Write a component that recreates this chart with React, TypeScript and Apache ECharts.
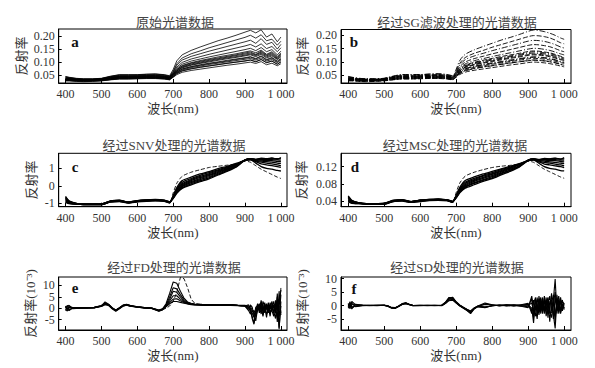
import React, { useEffect, useRef } from "react";
import * as echarts from "echarts";

// wavelength grid (nm) for panels a-d
const WL_A = [400,410,430,450,475,500,525,550,575,600,625,650,675,690,700,710,725,750,775,800,825,850,875,900,915,930,945,960,975,990,1000];

// a: raw reflectance spectra
const rawSpectra = [
  [.045,.042,.038,.036,.036,.038,.046,.052,.052,.052,.054,.055,.052,.048,.072,.105,.128,.145,.158,.170,.182,.192,.203,.215,.222,.212,.224,.196,.208,.178,.196],
  [.042,.040,.036,.035,.035,.037,.044,.049,.049,.050,.051,.052,.049,.045,.066,.094,.116,.132,.143,.155,.165,.175,.185,.195,.203,.192,.205,.182,.188,.165,.180],
  [.040,.038,.035,.034,.034,.036,.043,.047,.047,.048,.049,.050,.047,.043,.062,.088,.108,.122,.132,.142,.151,.160,.169,.178,.184,.172,.190,.168,.176,.150,.168],
  [.038,.037,.034,.033,.033,.035,.041,.045,.045,.046,.047,.048,.045,.042,.059,.081,.099,.112,.121,.130,.138,.146,.154,.162,.168,.158,.170,.152,.160,.140,.155],
  [.037,.036,.033,.032,.033,.034,.040,.044,.044,.045,.046,.046,.044,.041,.056,.076,.092,.104,.112,.120,.127,.134,.141,.148,.153,.144,.156,.140,.148,.128,.142],
  [.036,.035,.032,.031,.032,.034,.039,.043,.043,.044,.045,.045,.043,.040,.054,.072,.087,.098,.106,.113,.120,.126,.132,.139,.143,.136,.146,.130,.140,.122,.135],
  [.035,.034,.032,.031,.031,.033,.038,.042,.042,.043,.044,.044,.042,.039,.052,.068,.082,.093,.100,.107,.113,.119,.125,.131,.135,.128,.138,.124,.132,.115,.128],
  [.034,.034,.031,.030,.031,.033,.037,.041,.041,.042,.043,.043,.041,.038,.050,.065,.078,.088,.095,.101,.107,.113,.118,.124,.128,.121,.130,.116,.124,.110,.120],
  [.033,.033,.030,.030,.030,.032,.036,.040,.040,.041,.042,.042,.040,.037,.048,.062,.074,.083,.090,.096,.101,.107,.112,.117,.121,.114,.124,.110,.118,.104,.114],
  [.032,.032,.030,.029,.030,.031,.035,.039,.039,.040,.041,.041,.039,.036,.046,.059,.070,.079,.085,.091,.096,.101,.106,.111,.114,.108,.116,.104,.110,.098,.108],
  [.031,.031,.029,.028,.029,.030,.034,.038,.038,.039,.040,.040,.038,.035,.044,.056,.066,.074,.080,.085,.090,.095,.100,.105,.108,.102,.110,.098,.104,.092,.100],
  [.030,.030,.028,.027,.028,.029,.033,.037,.037,.038,.039,.039,.037,.034,.042,.052,.061,.068,.073,.078,.083,.088,.092,.097,.100,.095,.102,.090,.096,.086,.094],
  [.044,.041,.037,.035,.035,.037,.045,.051,.051,.051,.053,.054,.051,.046,.055,.071,.085,.096,.103,.110,.116,.122,.128,.135,.139,.130,.142,.127,.136,.118,.131],
  [.039,.037,.034,.032,.032,.034,.041,.046,.046,.047,.048,.049,.046,.042,.051,.066,.080,.090,.097,.104,.110,.116,.121,.127,.131,.125,.134,.120,.128,.112,.124],
  [.029,.029,.027,.026,.027,.029,.033,.036,.036,.037,.038,.038,.036,.033,.046,.061,.073,.082,.088,.094,.099,.104,.110,.115,.119,.112,.122,.108,.115,.101,.111],
  [.028,.028,.026,.025,.026,.028,.032,.035,.035,.036,.037,.037,.035,.032,.043,.056,.067,.075,.081,.086,.091,.096,.100,.104,.108,.101,.110,.098,.104,.092,.102],
];

// b: SG-smoothed tails (900..1000 nm), the head is the same as raw
const sgTails = [
  [.215,.220,.218,.214,.208,.200,.190,.185],
  [.195,.199,.198,.195,.190,.182,.172,.168],
  [.178,.181,.180,.177,.172,.165,.156,.152],
  [.162,.165,.164,.161,.157,.150,.142,.138],
  [.148,.151,.150,.147,.143,.137,.130,.126],
  [.139,.141,.140,.137,.134,.128,.121,.118],
  [.131,.133,.132,.130,.126,.121,.114,.111],
  [.124,.126,.125,.123,.119,.114,.108,.105],
  [.117,.119,.118,.116,.113,.108,.102,.099],
  [.111,.113,.112,.110,.107,.102,.097,.094],
  [.105,.107,.106,.104,.101,.097,.091,.088],
  [.097,.099,.098,.096,.093,.089,.084,.081],
  [.135,.138,.137,.134,.131,.125,.118,.115],
  [.127,.129,.128,.126,.122,.117,.110,.107],
  [.115,.117,.116,.114,.111,.106,.100,.097],
  [.104,.106,.105,.103,.100,.096,.090,.087],
];

// c: SNV spectra (last one is the outlier)
const snvSpectra = [
  [-0.6,-0.85,-1.0,-1.08,-1.08,-1.08,-0.93,-0.9,-0.98,-0.92,-0.88,-0.86,-0.88,-0.98,-0.55,-0.1,0.3,0.5,0.68,0.82,0.98,1.12,1.28,1.45,1.48,1.3,1.1,1.0,0.95,0.88,0.85],
  [-0.65,-0.88,-1.0,-1.07,-1.07,-1.07,-0.92,-0.88,-0.97,-0.9,-0.86,-0.84,-0.87,-0.96,-0.6,-0.18,0.2,0.42,0.6,0.76,0.92,1.07,1.24,1.44,1.5,1.38,1.25,1.2,1.15,1.1,1.05],
  [-0.7,-0.9,-1.02,-1.06,-1.06,-1.06,-0.9,-0.86,-0.96,-0.88,-0.84,-0.82,-0.86,-0.95,-0.62,-0.22,0.12,0.36,0.54,0.7,0.87,1.03,1.22,1.45,1.52,1.42,1.35,1.3,1.25,1.2,1.15],
  [-0.75,-0.92,-1.02,-1.05,-1.05,-1.05,-0.89,-0.85,-0.95,-0.87,-0.83,-0.81,-0.85,-0.94,-0.64,-0.26,0.06,0.3,0.48,0.64,0.82,0.99,1.19,1.46,1.53,1.45,1.42,1.38,1.35,1.3,1.28],
  [-0.8,-0.95,-1.03,-1.05,-1.05,-1.04,-0.88,-0.84,-0.94,-0.86,-0.82,-0.8,-0.84,-0.93,-0.66,-0.3,0.0,0.24,0.42,0.58,0.77,0.95,1.16,1.47,1.54,1.48,1.47,1.45,1.44,1.4,1.38],
  [-0.85,-0.97,-1.03,-1.04,-1.04,-1.03,-0.87,-0.83,-0.93,-0.85,-0.81,-0.79,-0.83,-0.92,-0.68,-0.34,-0.05,0.18,0.36,0.52,0.72,0.91,1.13,1.48,1.55,1.5,1.52,1.5,1.5,1.48,1.47],
  [-0.9,-1.0,-1.04,-1.04,-1.04,-1.03,-0.86,-0.82,-0.92,-0.84,-0.8,-0.78,-0.82,-0.91,-0.7,-0.38,-0.1,0.12,0.3,0.46,0.67,0.87,1.1,1.48,1.55,1.52,1.56,1.55,1.57,1.55,1.56],
  [-0.95,-1.02,-1.05,-1.05,-1.05,-1.04,-0.87,-0.83,-0.93,-0.85,-0.82,-0.8,-0.83,-0.92,-0.72,-0.42,-0.14,0.06,0.24,0.4,0.62,0.83,1.07,1.46,1.54,1.5,1.58,1.55,1.6,1.52,1.62],
  [-0.7,-0.88,-1.0,-1.06,-1.06,-1.06,-0.92,-0.88,-0.96,-0.9,-0.86,-0.84,-0.86,-0.95,-0.4,0.15,0.55,0.78,0.92,1.05,1.12,1.18,1.25,1.42,1.35,1.15,0.95,0.8,0.65,0.5,0.42],
];

// d: MSC spectra (last one is the outlier)
const mscSpectra = [
  [.052,.042,.036,.033,.033,.033,.039,.040,.037,.039,.041,.042,.041,.037,.054,.072,.088,.096,.103,.109,.115,.121,.127,.134,.135,.128,.120,.116,.114,.111,.110],
  [.050,.041,.036,.033,.033,.033,.039,.041,.037,.040,.042,.042,.041,.038,.052,.069,.084,.093,.100,.106,.113,.119,.126,.134,.136,.131,.126,.124,.122,.120,.118],
  [.048,.040,.035,.034,.034,.034,.040,.042,.038,.041,.042,.043,.042,.038,.051,.067,.081,.090,.098,.104,.111,.117,.125,.134,.137,.133,.130,.128,.126,.124,.122],
  [.046,.039,.035,.034,.034,.034,.040,.042,.038,.041,.043,.044,.042,.038,.050,.066,.078,.088,.095,.102,.109,.116,.124,.134,.137,.134,.133,.131,.130,.128,.127],
  [.044,.038,.035,.034,.034,.034,.041,.042,.038,.042,.043,.044,.042,.039,.050,.064,.076,.086,.093,.099,.107,.114,.122,.135,.138,.135,.135,.134,.134,.132,.131],
  [.042,.037,.035,.034,.034,.035,.041,.043,.039,.042,.044,.044,.043,.039,.049,.062,.074,.083,.090,.097,.105,.112,.121,.135,.138,.136,.137,.136,.136,.135,.135],
  [.040,.036,.034,.034,.034,.035,.042,.043,.039,.042,.044,.045,.043,.040,.048,.061,.072,.081,.088,.094,.103,.111,.120,.135,.138,.137,.138,.138,.139,.138,.138],
  [.038,.035,.034,.034,.034,.034,.041,.043,.039,.042,.043,.044,.043,.039,.047,.059,.070,.078,.086,.092,.101,.109,.119,.134,.138,.136,.139,.138,.140,.137,.141],
  [.048,.041,.036,.034,.034,.034,.039,.041,.038,.040,.042,.042,.042,.038,.060,.082,.098,.107,.113,.118,.121,.123,.126,.133,.130,.122,.114,.108,.102,.096,.093],
];

// wavelength grid (nm) for panels e-f
const WL_E = [400,405,410,420,440,460,480,500,510,520,530,540,550,560,570,580,600,620,640,660,670,680,690,700,710,720,730,740,750,760,780,800,820,840,860,880,900,910,915,920,925,930,935,940,945,950,955,960,965,970,975,980,985,990,995,1000];

// e: first derivative (x 10^-3), last one is the outlier
const fdSpectra = [
  [0.5,1.2,0.8,0.3,0.2,0.3,0.4,1.2,2.4,1.7,0.2,-0.8,0.2,1.3,1.7,1.2,0.7,0.3,0.1,-0.9,-0.3,2.0,6.5,11.5,11.0,7.5,4.5,2.8,2.2,1.9,1.7,1.6,1.5,1.5,1.6,1.4,1.3,0.5,-1.5,-3.5,-6.5,-2.0,0.5,2.0,-1.0,-3.0,1.5,-0.5,2.5,-2.5,0.5,3.0,-2.0,5.0,-4.0,6.0],
  [-0.5,-1.2,0.2,0.1,0.1,0.2,0.3,1.0,2.0,1.5,0.0,-1.0,0.0,1.1,1.5,1.0,0.6,0.2,0.0,-1.1,-0.5,1.5,5.0,9.0,8.5,6.0,3.8,2.5,2.0,1.8,1.6,1.5,1.4,1.4,1.5,1.3,1.2,1.0,0.0,-2.0,-4.0,0.5,1.0,-1.0,2.5,-2.0,-1.0,1.5,-2.0,1.0,-1.5,1.5,2.0,-6.0,7.5,-3.0],
  [1.0,-0.5,-1.0,0.2,0.3,0.3,0.4,1.1,2.2,1.6,0.1,-0.9,0.1,1.2,1.6,1.1,0.6,0.3,0.1,-1.0,-0.4,1.2,4.0,7.5,7.0,5.0,3.2,2.3,1.9,1.7,1.5,1.4,1.4,1.5,1.4,1.2,1.1,0.2,1.0,-1.0,-2.0,-3.5,-1.0,1.5,0.5,1.5,-2.0,0.0,0.5,-3.5,2.0,-2.0,1.0,3.0,-8.5,1.0],
  [0.0,0.8,1.3,-0.2,0.0,0.1,0.2,0.9,1.8,1.4,-0.1,-1.1,-0.1,1.0,1.4,1.0,0.5,0.2,-0.1,-1.2,-0.6,1.0,3.2,5.5,5.5,4.0,2.8,2.1,1.8,1.6,1.5,1.4,1.3,1.4,1.4,1.2,1.0,-0.5,1.5,0.5,-3.0,-5.5,0.0,-0.5,3.5,-1.0,2.5,-2.5,-1.0,1.5,-1.0,-3.5,3.5,-1.0,4.0,-2.0],
  [-1.0,0.3,-0.6,0.0,0.2,0.2,0.3,1.0,2.8,1.8,0.3,-0.7,0.3,1.4,1.8,1.3,0.7,0.3,0.1,-0.8,-0.2,0.8,2.5,4.0,4.2,3.3,2.5,2.0,1.7,1.6,1.5,1.4,1.3,1.3,1.4,1.2,1.0,1.5,-0.5,-4.5,-7.0,-1.5,2.0,0.5,-2.5,3.0,0.5,-4.0,1.0,0.0,3.0,-1.5,-4.5,6.5,-9.0,3.0],
  [0.5,-0.3,0.5,0.1,0.1,0.2,0.3,0.8,1.6,1.2,-0.2,-1.3,-0.2,0.9,1.3,0.9,0.5,0.2,-0.1,-1.3,-0.7,0.6,2.0,3.0,3.0,2.6,2.2,1.9,1.6,1.5,1.4,1.3,1.3,1.3,1.3,1.1,0.9,-1.0,-2.5,-1.5,-1.0,-2.5,1.5,-2.0,1.0,-3.5,1.0,2.0,-1.5,2.5,-0.5,1.0,-1.0,-4.0,2.0,8.0],
  [0.2,0.5,0.3,0.2,0.2,0.3,0.3,1.0,2.0,1.5,0.1,-0.9,0.1,1.2,1.5,1.1,0.6,0.3,0.0,-1.0,-0.6,0.0,1.0,3.0,7.0,13.5,13.0,9.0,4.0,2.2,1.6,1.5,1.4,1.4,1.4,1.2,1.0,0.5,-1.0,-2.5,-3.0,-1.0,0.5,1.0,-1.5,0.5,-1.0,1.5,-1.0,-2.0,1.0,0.0,2.0,-2.0,-5.0,9.0],
];

// f: second derivative (x 10^-3)
const sdSpectra = [
  [0.8,-1.2,1.5,0.3,0.1,0.0,0.1,0.1,-0.2,-0.8,-0.9,-0.3,0.6,0.9,0.4,0.0,0.1,0.0,0.0,0.1,1.0,2.5,2.8,1.2,0.0,-0.8,-1.6,-2.2,-1.0,-0.3,0.6,0.2,0.1,0.3,-0.2,0.3,0.8,-3.0,2.0,-1.5,3.0,-2.5,1.5,-3.0,2.5,-4.0,1.0,3.5,-2.0,2.0,9.8,-3.0,2.5,-2.0,1.5,0.5],
  [-0.5,1.4,-0.8,-0.2,0.0,0.1,0.0,0.0,-0.3,-0.9,-1.0,-0.4,0.5,0.8,0.3,-0.1,0.0,0.1,-0.1,0.0,0.8,2.0,2.3,1.0,-0.1,-0.9,-1.8,-2.8,-1.2,-0.4,-0.7,-0.1,0.2,-0.2,0.2,-0.1,-0.5,2.5,-4.5,3.0,-2.0,2.5,-3.0,1.0,-1.5,3.0,-4.5,1.5,2.0,-3.5,-8.5,2.5,-2.0,3.0,-1.0,-0.5],
  [0.3,0.6,-1.3,0.5,0.2,0.0,0.1,0.2,-0.1,-0.7,-0.8,-0.2,0.7,1.0,0.5,0.1,0.0,0.0,0.1,0.1,1.1,2.8,3.1,1.4,0.2,-0.6,-1.4,-2.0,-0.9,-0.2,0.9,0.3,-0.2,0.1,0.3,0.2,0.2,-1.0,-6.5,1.5,0.5,-3.5,2.5,-1.5,3.5,-2.0,2.0,-6.0,1.0,4.0,-4.0,1.5,3.5,-2.5,0.5,-1.0],
  [-1.0,0.2,0.9,-0.4,-0.1,0.1,0.0,0.1,-0.2,-0.8,-1.0,-0.3,0.5,0.8,0.4,0.0,0.1,-0.1,0.0,0.0,0.9,2.3,2.6,1.1,0.1,-0.7,-1.7,-2.5,-1.1,-0.3,-0.5,-0.2,0.2,-0.1,0.0,-0.3,-0.8,3.5,-1.5,-4.0,2.0,1.0,-2.0,3.0,-3.0,1.5,-2.5,-1.0,4.5,-5.0,3.0,-1.5,-1.0,2.0,-2.0,0.5],
  [0.5,-0.6,0.4,0.2,0.0,-0.1,0.1,0.0,-0.2,-0.8,-0.9,-0.3,0.6,0.9,0.4,0.0,0.0,0.1,0.0,0.1,1.2,3.0,2.9,1.3,0.0,-0.8,-1.5,-2.3,-1.0,-0.3,0.4,0.3,-0.1,0.2,-0.1,0.1,0.5,-2.0,1.0,2.5,-3.5,0.0,3.0,-2.0,-1.0,2.0,1.5,-3.0,-2.5,1.5,-6.0,4.0,-3.0,1.0,2.0,-1.5],
  [-0.2,0.9,-0.5,-0.3,0.1,0.0,-0.1,0.1,-0.3,-0.9,-1.1,-0.4,0.4,0.7,0.3,-0.1,-0.1,0.0,0.1,-0.1,0.7,1.8,2.0,0.9,-0.2,-1.0,-1.9,-3.0,-1.3,-0.4,-0.8,0.0,0.0,0.2,0.1,-0.2,0.0,1.0,-2.0,-1.0,-5.0,3.5,-1.0,2.0,-2.5,0.5,3.0,-2.0,-4.5,0.5,5.0,-2.0,1.0,-3.0,0.0,1.0],
];

const X_TICKS = [400, 500, 600, 700, 800, 900, 1000];
const TITLES = ["原始光谱数据", "经过SG滤波处理的光谱数据", "经过SNV处理的光谱数据", "经过MSC处理的光谱数据", "经过FD处理的光谱数据", "经过SD处理的光谱数据"];
const LETTERS = ["a", "b", "c", "d", "e", "f"];
const Y_NAMES = ["反射率", "反射率", "反射率", "反射率", "反射率(10⁻³)", "反射率(10⁻³)"];
const Y_TICKS = [[0.05, 0.1, 0.15, 0.2], [0.05, 0.1, 0.15, 0.2], [-1, 0, 1], [0.04, 0.08, 0.12], [-5, 0, 5, 10], [-5, 0, 5, 10]];
const Y_DECIMALS = [2, 2, 0, 2, 0, 0];
const Y_RANGES = [[0.02, 0.227], [0.02, 0.222], [-1.19, 1.86], [0.027, 0.151], [-9.5, 13.7], [-9.1, 10.6]];
// the FD panel's tick labels are placed from its axis scale after layout
const FD_PANEL = 4;

const GRIDS = [
  { left: 58.7, top: 29, width: 228.3, height: 54 },
  { left: 341, top: 29.5, width: 230, height: 53.5 },
  { left: 58.7, top: 153.3, width: 228.3, height: 53.4 },
  { left: 341, top: 153.3, width: 230, height: 53.4 },
  { left: 58.7, top: 277, width: 228.3, height: 53 },
  { left: 341, top: 277, width: 230, height: 53 },
];
const X_RANGES = [[381, 1017], [380, 1019], [381, 1017], [380, 1019], [381, 1017], [380, 1019]];
const Y_NAME_GAPS = [31, 32, 21, 33, 22, 32];
const TITLE_POS = [[175, 22], [457, 22], [174, 145], [455, 145], [174, 267], [457, 267]];
const LETTER_POS = [[75, 42], [354, 42], [75, 167], [355, 167], [75, 288], [354, 289]];
const LINE_WIDTHS = [0.8, 0.8, 1.3, 1.3, 1.1, 1.1];

const SERIF = "'Liberation Serif', 'Times New Roman', 'Noto Sans CJK SC', serif";
const TXT = "#333";

function pairs(xs: number[], ys: number[]) {
  return xs.map((x, i) => [x, ys[i]]);
}

function baseGraphic() {
  const graphic: any[] = [];
  TITLES.forEach((t, i) => {
    graphic.push({
      id: "title" + i,
      type: "text",
      x: TITLE_POS[i][0],
      y: TITLE_POS[i][1],
      silent: true,
      style: { text: t, fontFamily: SERIF, fontSize: 13, fill: "#444", align: "center", verticalAlign: "middle" },
    });
  });
  LETTERS.forEach((t, i) => {
    graphic.push({
      id: "letter" + i,
      type: "text",
      x: LETTER_POS[i][0],
      y: LETTER_POS[i][1],
      silent: true,
      z: 100,
      style: { text: t, fontFamily: SERIF, fontSize: 15, fontWeight: "bold", fill: "#111", align: "center", verticalAlign: "middle" },
    });
  });
  return graphic;
}

function buildOption() {
  const sgSpectra = rawSpectra.map((r, i) => [...r.slice(0, 23), ...sgTails[i]]);
  const panels = [
    { wl: WL_A, lines: rawSpectra, dash: (i: number) => "solid" as any, smooth: false },
    { wl: WL_A, lines: sgSpectra, dash: (i: number) => (i % 2 ? [5, 2] : [6, 2, 1, 2]), smooth: 0.3 },
    { wl: WL_A, lines: snvSpectra, dash: (i: number) => (i === snvSpectra.length - 1 ? [4, 2] : "solid"), smooth: 0.2 },
    { wl: WL_A, lines: mscSpectra, dash: (i: number) => (i === mscSpectra.length - 1 ? [4, 2] : "solid"), smooth: 0.2 },
    { wl: WL_E, lines: fdSpectra, dash: (i: number) => (i === fdSpectra.length - 1 ? [4, 2] : "solid"), smooth: false },
    { wl: WL_E, lines: sdSpectra, dash: (i: number) => "solid" as any, smooth: false },
  ];

  const series: any[] = [];
  panels.forEach((p, pi) => {
    p.lines.forEach((ln, li) => {
      const dash = p.dash(li);
      series.push({
        type: "line",
        xAxisIndex: pi,
        yAxisIndex: pi,
        data: pairs(p.wl, ln),
        showSymbol: false,
        symbol: "none",
        smooth: p.smooth,
        silent: true,
        lineStyle: { color: "#000", width: dash === "solid" ? LINE_WIDTHS[pi] : 0.9, type: dash },
      });
    });
  });

  const xAxis = GRIDS.map((_, i) => ({
    type: "value",
    gridIndex: i,
    min: X_RANGES[i][0],
    max: X_RANGES[i][1],
    name: "波长(nm)",
    nameLocation: "middle",
    nameGap: 19,
    nameTextStyle: { fontFamily: SERIF, fontSize: 13, color: TXT },
    axisLine: { show: true, onZero: false, lineStyle: { color: "#000", width: 1 } },
    axisTick: { show: true, inside: true, length: 4, customValues: X_TICKS, lineStyle: { color: "#000" } },
    axisLabel: {
      show: true,
      customValues: X_TICKS,
      margin: 5,
      fontFamily: SERIF,
      fontSize: 12,
      color: TXT,
      formatter: (v: number) => (v >= 1000 ? "1 000" : String(v)),
    },
    splitLine: { show: false },
  }));

  const yAxis = GRIDS.map((_, i) => ({
    type: "value",
    gridIndex: i,
    min: Y_RANGES[i][0],
    max: Y_RANGES[i][1],
    name: Y_NAMES[i],
    nameLocation: "middle",
    nameRotate: 90,
    nameGap: Y_NAME_GAPS[i],
    nameTextStyle: { fontFamily: SERIF, fontSize: 13, color: TXT },
    axisLine: { show: true, onZero: false, lineStyle: { color: "#000", width: 1 } },
    axisTick: { show: true, inside: true, length: 3, customValues: Y_TICKS[i], lineStyle: { color: "#000" } },
    axisLabel: {
      show: i !== FD_PANEL,
      customValues: Y_TICKS[i],
      margin: 4,
      fontFamily: SERIF,
      fontSize: 12,
      color: TXT,
      formatter: (v: number) => v.toFixed(Y_DECIMALS[i]),
    },
    splitLine: { show: false },
  }));

  return {
    animation: false,
    backgroundColor: "#fff",
    grid: GRIDS.map((g) => ({ ...g, show: true, borderColor: "#000", borderWidth: 1, backgroundColor: "transparent" })),
    xAxis,
    yAxis,
    series,
    graphic: baseGraphic(),
  };
}

export default function App() {
  const ref = useRef<HTMLDivElement>(null);
  useEffect(() => {
    if (!ref.current) return;
    const chart = echarts.init(ref.current, undefined, { renderer: "svg" });
    chart.setOption(buildOption() as any);

    // FD panel tick labels: positioned with the axis' own scale
    const g = GRIDS[FD_PANEL];
    const [lo, hi] = Y_RANGES[FD_PANEL];
    const fdLabels = Y_TICKS[FD_PANEL].map((v, k) => {
      let py = chart.convertToPixel({ yAxisIndex: FD_PANEL } as any, v) as any;
      if (typeof py !== "number" || !isFinite(py)) {
        py = g.top + g.height * (1 - (v - lo) / (hi - lo));
      }
      return {
        id: "fdlab" + k,
        type: "text",
        x: g.left - 4,
        y: py,
        silent: true,
        style: {
          text: v.toFixed(Y_DECIMALS[FD_PANEL]),
          fontFamily: SERIF,
          fontSize: 12,
          lineHeight: 11,
          fill: TXT,
          align: "right",
          verticalAlign: "middle",
        },
      };
    });
    chart.setOption({ graphic: [...baseGraphic(), ...fdLabels] } as any);

    return () => chart.dispose();
  }, []);
  return (
    <div
      ref={ref}
      style={{ position: "fixed", left: 0, top: 0, width: 595, height: 368, background: "#fff" }}
    />
  );
}
